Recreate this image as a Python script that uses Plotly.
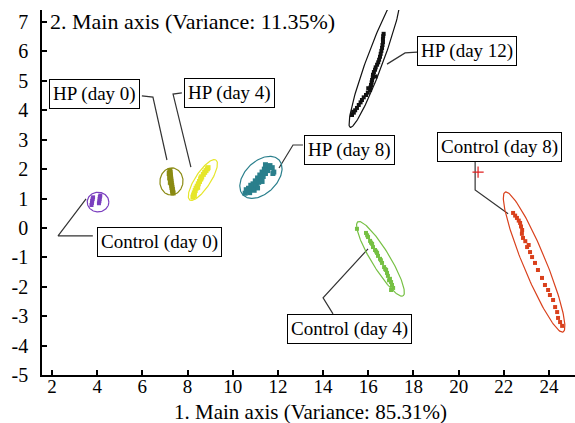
import numpy as np
import plotly.graph_objects as go

# ---------------- data ----------------
groups = ["Control (day 0)", "HP (day 0)", "HP (day 4)", "HP (day 8)",
          "HP (day 12)", "Control (day 4)", "Control (day 8)"]

ctrl0_x = [3.75, 3.77, 3.78, 3.80, 3.82, 4.08, 4.10, 4.11, 4.12, 4.14]
ctrl0_y = [0.78, 0.85, 0.92, 0.98, 1.04, 0.84, 0.91, 0.98, 1.05, 1.10]

hp0_x = [7.22, 7.23, 7.24, 7.25, 7.26, 7.27, 7.28, 7.30, 7.31, 7.33, 7.34, 7.36, 7.19, 7.21, 7.24]
hp0_y = [1.95, 1.88, 1.80, 1.73, 1.66, 1.59, 1.52, 1.45, 1.38, 1.31, 1.25, 1.19, 1.85, 1.70, 1.55]

hp4_x = [8.24, 8.27, 8.30, 8.34, 8.38, 8.43, 8.48, 8.53, 8.58, 8.63, 8.70, 8.76, 8.82, 8.88, 8.91, 8.30, 8.45, 8.60]
hp4_y = [1.05, 1.12, 1.19, 1.27, 1.35, 1.42, 1.50, 1.58, 1.66, 1.74, 1.82, 1.89, 1.95, 2.01, 2.05, 1.10, 1.38, 1.70]

hp8_x = [10.55, 10.65, 10.75, 10.70, 10.85, 10.95, 10.90, 11.05, 11.00, 11.15, 11.10, 11.25, 11.20,
         11.35, 11.30, 11.45, 11.40, 11.55, 11.50, 11.60, 11.65, 11.75, 11.78, 11.82, 10.95, 11.10,
         10.80, 11.30, 11.45, 10.60]
hp8_y = [1.18, 1.25, 1.20, 1.35, 1.32, 1.40, 1.50, 1.45, 1.60, 1.55, 1.70, 1.65, 1.80, 1.75, 1.90,
         1.85, 2.00, 1.95, 2.08, 2.05, 2.12, 2.05, 1.85, 1.90, 1.28, 1.36, 1.45, 1.58, 2.15, 1.30]

hp12_x = [15.28, 15.36, 15.42, 15.50, 15.58, 15.66, 15.72, 15.80, 15.90, 15.98, 16.08, 16.10, 16.12,
          16.15, 16.17, 16.20, 16.21, 16.25, 16.30, 16.33, 16.39, 16.44, 16.48, 16.52, 16.55, 16.58,
          16.61, 16.63, 16.65, 16.65, 16.66, 16.68, 16.00, 16.32, 15.33]
hp12_y = [3.84, 3.92, 4.00, 4.08, 4.18, 4.27, 4.35, 4.44, 4.52, 4.60, 4.69, 4.78, 4.86, 4.95, 5.03,
          5.12, 5.21, 5.30, 5.38, 5.46, 5.55, 5.63, 5.72, 5.82, 5.92, 6.02, 6.12, 6.22, 6.32, 6.42,
          6.52, 6.60, 4.75, 5.15, 3.95]

ctrl4_x = [15.50, 15.90, 15.99, 16.08, 16.17, 16.21, 16.30, 16.39, 16.43, 16.52, 16.61, 16.70,
           16.79, 16.83, 16.87, 16.96, 17.01, 17.05, 17.10, 17.01, 15.95, 16.12, 16.35, 16.56, 16.75, 16.92]
ctrl4_y = [-0.03, -0.17, -0.31, -0.44, -0.54, -0.65, -0.75, -0.85, -0.95, -1.05, -1.19, -1.33,
           -1.43, -1.53, -1.63, -1.73, -1.84, -1.94, -2.04, -2.11, -0.25, -0.50, -0.80, -1.10, -1.40, -1.78]

ctrl8_x = [22.41, 22.58, 22.72, 22.81, 22.85, 23.03, 23.16, 23.25, 23.38, 23.51, 23.69, 23.82,
           23.96, 24.04, 24.18, 24.27, 24.36, 24.40, 24.49, 24.58, 22.50, 22.66, 22.76, 22.80, 22.95, 23.10]
ctrl8_y = [0.51, 0.34, 0.17, -0.07, -0.34, -0.65, -0.82, -0.99, -1.19, -1.43, -1.70, -1.94,
           -2.11, -2.28, -2.45, -2.69, -2.86, -3.06, -3.20, -3.33, 0.42, 0.25, 0.05, -0.20, -0.45, -0.58]

cross_x = [20.86]
cross_y = [1.90]

# ellipse: centre x, centre y, major-axis tip x, tip y, minor/major ratio
ell_cx = [4.04, 7.29, 8.68, 11.25, 16.30, 16.54, 23.34]
ell_cy = [0.88, 1.58, 1.63, 1.72, 5.71, -1.05, -1.16]
ell_tx = [4.52, 7.34, 9.26, 12.04, 17.40, 17.54, 24.62]
ell_ty = [0.88, 2.04, 2.31, 2.32, 8.00, -2.31, -3.54]
ell_ratio = [0.91, 0.85, 0.32, 0.64, 0.115, 0.21, 0.15]

colors = ["#7b3fbf", "#8a8a12", "#e6e62a", "#2a7f8c", "#111111", "#76c043", "#d9401c"]

# labels: box centre positions and leader lines (data units)
label_x = [6.74, 3.88, 9.86, 15.19, 20.37, 15.15, 21.81]
label_y = [-0.48, 4.57, 4.59, 2.65, 6.00, -3.45, 2.74]
leader_x = [[3.81, 2.27, 3.51], [5.98, 6.47, 7.09], [7.75, 7.36, 8.15], [13.11, 12.67, 12.05],
            [18.16, 17.63, 16.83], [14.44, 14.00, 15.99], [20.73, 20.73, 22.19]]
leader_y = [[-0.27, -0.27, 0.99], [4.49, 4.45, 2.31], [4.59, 4.55, 2.07], [2.82, 2.82, 2.04],
            [5.98, 5.95, 5.57], [-2.92, -2.38, -0.71], [2.24, 1.29, 0.48]]

x_ticks = [2, 4, 6, 8, 10, 12, 14, 16, 18, 20, 22, 24]
y_ticks = [-5, -4, -3, -2, -1, 0, 1, 2, 3, 4, 5, 6, 7]
x_title = "1. Main axis (Variance: 85.31%)"
y_title = "2. Main axis (Variance: 11.35%)"

# ---------------- figure ----------------
FONT = "Liberation Serif"
SX, SY = 22.59, 29.42  # px per data unit, to draw ellipses in screen proportion

def ellipse(cx, cy, tx, ty, ratio, n=160):
    ux, uy = (tx - cx) * SX, (ty - cy) * SY
    vx, vy = -uy * ratio, ux * ratio
    t = np.linspace(0, 2 * np.pi, n)
    ex = cx + (np.cos(t) * ux + np.sin(t) * vx) / SX
    ey = cy + (np.cos(t) * uy + np.sin(t) * vy) / SY
    return ex, ey

fig = go.Figure()

# leader lines
for lx, ly in zip(leader_x, leader_y):
    fig.add_trace(go.Scatter(x=lx, y=ly, mode="lines",
                             line=dict(color="#333333", width=1.2),
                             hoverinfo="skip", showlegend=False))

pts = [(ctrl0_x, ctrl0_y), (hp0_x, hp0_y), (hp4_x, hp4_y), (hp8_x, hp8_y),
       (hp12_x, hp12_y), (ctrl4_x, ctrl4_y), (ctrl8_x, ctrl8_y)]
sizes = [4, 5, 5, 5, 4, 4, 4]
for i, (px, py) in enumerate(pts):
    ex, ey = ellipse(ell_cx[i], ell_cy[i], ell_tx[i], ell_ty[i], ell_ratio[i])
    fig.add_trace(go.Scatter(x=ex, y=ey, mode="lines",
                             line=dict(color=colors[i], width=1.2),
                             hoverinfo="skip", showlegend=False))
    fig.add_trace(go.Scatter(x=px, y=py, mode="markers", name=groups[i],
                             marker=dict(color=colors[i], size=sizes[i], symbol="square",
                                         line=dict(width=0)),
                             showlegend=False))

fig.add_trace(go.Scatter(x=cross_x, y=cross_y, mode="markers",
                         marker=dict(symbol="cross-thin", size=8, color="#e02020",
                                     line=dict(color="#e02020", width=1.2)),
                         showlegend=False))

for i, g in enumerate(groups):
    fig.add_annotation(x=label_x[i], y=label_y[i], xref="x", yref="y", text=g,
                       showarrow=False, bgcolor="white", bordercolor="black",
                       borderwidth=1, borderpad=3,
                       font=dict(family=FONT, size=19, color="black"))

fig.add_annotation(x=0.011, y=0.968, xref="paper", yref="paper", text=y_title,
                   xanchor="left", yanchor="middle", showarrow=False,
                   font=dict(family=FONT, size=22, color="black"))
fig.add_annotation(x=0.503, y=-0.100, xref="paper", yref="paper", text=x_title,
                   xanchor="center", yanchor="middle", showarrow=False, borderpad=0,
                   font=dict(family=FONT, size=21, color="black"))

axis_common = dict(showline=True, linecolor="black", linewidth=1.5, mirror=False,
                   ticks="inside", ticklen=5, tickwidth=1.5, tickcolor="black",
                   showgrid=False, zeroline=False)

fig.update_layout(
    width=575, height=423,
    margin=dict(l=42, r=0, t=10, b=48),
    paper_bgcolor="white", plot_bgcolor="white",
    xaxis=dict(range=[1.56, 25.15], tickvals=x_ticks,
               ticktext=[str(v) for v in x_ticks], ticklabelstandoff=-7,
               tickfont=dict(family=FONT, size=19, color="black"), **axis_common),
    yaxis=dict(range=[-5, 7.41], tickvals=y_ticks,
               ticktext=[str(v) for v in y_ticks], ticklabelstandoff=8,
               tickfont=dict(family=FONT, size=20, color="black"), **axis_common),
    showlegend=False,
)

fig.write_html("out.html")
